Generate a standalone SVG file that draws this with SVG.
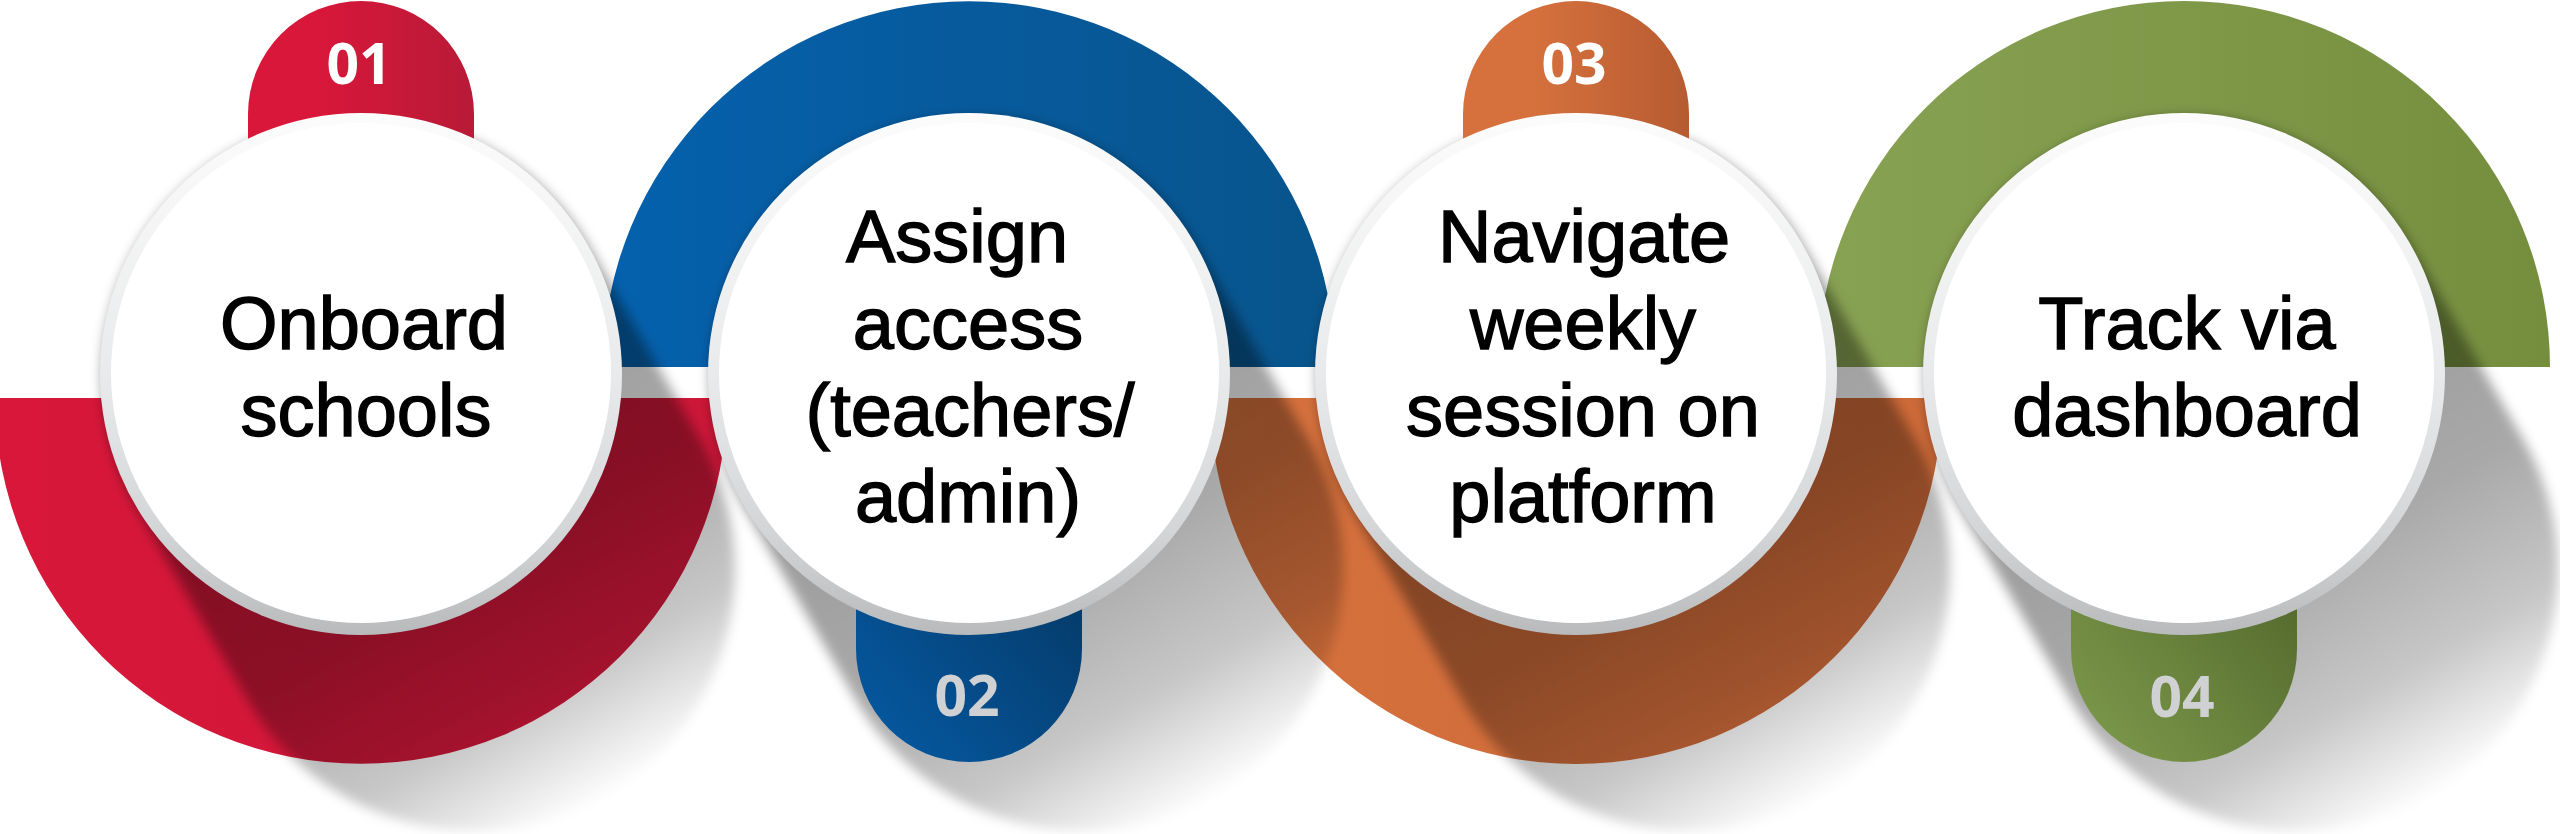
<svg xmlns="http://www.w3.org/2000/svg" xmlns:xlink="http://www.w3.org/1999/xlink" width="2560" height="834" viewBox="0 0 2560 834">
  <style>
    .lbl { font-family: "Liberation Sans", Arial, Helvetica, sans-serif; font-size: 74px; fill: #000; stroke: #000; stroke-width: 1.4px; text-anchor: middle; }
    .num { font-family: "Open Sans", "DejaVu Sans", sans-serif; font-weight: 700; font-size: 57px; text-anchor: middle; }
    .num-top { fill: #ffffff; }
    .num-bot { fill: #d0d1d3; }
    .rim { fill: url(#rimGrad); }
    .face { fill: #ffffff; }
  </style>
  <defs>
    <linearGradient id="rimGrad" x1="0" y1="0" x2="0" y2="1">
      <stop offset="0" stop-color="#fcfcfc"/>
      <stop offset="0.5" stop-color="#e9eaeb"/>
      <stop offset="0.8" stop-color="#d4d5d7"/>
      <stop offset="1" stop-color="#b8babc"/>
    </linearGradient>
    <linearGradient id="gRed" x1="0" y1="0" x2="1" y2="0">
      <stop offset="0" stop-color="#d8173a"/>
      <stop offset="1" stop-color="#cc1738"/>
    </linearGradient>
    <linearGradient id="gBlue" x1="0" y1="0" x2="1" y2="0">
      <stop offset="0" stop-color="#0561ad"/>
      <stop offset="1" stop-color="#08548c"/>
    </linearGradient>
    <linearGradient id="gOrange" x1="0" y1="0" x2="1" y2="0">
      <stop offset="0" stop-color="#d6713d"/>
      <stop offset="1" stop-color="#cc6938"/>
    </linearGradient>
    <linearGradient id="gGreen" x1="0" y1="0" x2="1" y2="0">
      <stop offset="0" stop-color="#88a253"/>
      <stop offset="1" stop-color="#758e3e"/>
    </linearGradient>
    <linearGradient id="tRed" x1="0" y1="0" x2="1" y2="0">
      <stop offset="0.3" stop-color="#d8173a"/>
      <stop offset="1" stop-color="#b81a37"/>
    </linearGradient>
    <linearGradient id="tOrange" x1="0" y1="0" x2="1" y2="0">
      <stop offset="0.3" stop-color="#d6713d"/>
      <stop offset="1" stop-color="#b65b31"/>
    </linearGradient>
    <linearGradient id="tBlue" x1="0" y1="1" x2="1" y2="0">
      <stop offset="0" stop-color="#055ba6"/>
      <stop offset="1" stop-color="#05345c"/>
    </linearGradient>
    <linearGradient id="tGreen" x1="0" y1="1" x2="1" y2="0">
      <stop offset="0" stop-color="#809d4d"/>
      <stop offset="1" stop-color="#4b5f27"/>
    </linearGradient>
    <linearGradient id="shGrad" gradientUnits="userSpaceOnUse" x1="0" y1="0" x2="245.5" y2="425.2">
      <stop offset="0" stop-color="#000" stop-opacity="0.40"/>
      <stop offset="0.45" stop-color="#000" stop-opacity="0.34"/>
      <stop offset="0.75" stop-color="#000" stop-opacity="0.22"/>
      <stop offset="0.9" stop-color="#000" stop-opacity="0.09"/>
      <stop offset="1" stop-color="#000" stop-opacity="0"/>
    </linearGradient>
    <filter id="soft" x="-20%" y="-20%" width="140%" height="140%">
      <feGaussianBlur stdDeviation="6"/>
    </filter>
    <path id="shadowShape" d="M 226 -130.5 L 341 68.7 A 261 261 0 0 1 -111 329.7 L -226 130.5 A 261 261 0 0 1 226 -130.5 Z" fill="url(#shGrad)" filter="url(#soft)"/>
  </defs>

  <rect width="2560" height="834" fill="#ffffff"/>

  <g id="connectors">
    <path id="band-1" d="M -5 398 A 366 366 0 0 0 727 398 Z" fill="url(#gRed)"/>
    <path id="band-2" d="M 603 367 A 366 366 0 0 1 1335 367 Z" fill="url(#gBlue)"/>
    <path id="band-3" d="M 1210 398 A 366 366 0 0 0 1942 398 Z" fill="url(#gOrange)"/>
    <path id="band-4" d="M 1818 367 A 366 366 0 0 1 2550 367 Z" fill="url(#gGreen)"/>
  </g>

  <g id="shadows">
    <use xlink:href="#shadowShape" transform="translate(361,374)"/>
    <use xlink:href="#shadowShape" transform="translate(969,374)"/>
    <use xlink:href="#shadowShape" transform="translate(1576,374)"/>
    <use xlink:href="#shadowShape" transform="translate(2184,374)"/>
  </g>

  <g id="node-1">
    <path d="M 248 240 V 114 A 113 113 0 0 1 474 114 V 240 Z" fill="url(#tRed)"/>
    <circle class="rim" cx="361" cy="374" r="261"/>
    <circle class="face" cx="361" cy="373" r="250"/>
    <text class="num num-top" x="359" y="84">01</text>
    <text class="lbl" x="364" y="349">Onboard</text>
    <text class="lbl" x="366" y="436">schools</text>
  </g>

  <g id="node-2">
    <path d="M 856 500 V 649 A 113 113 0 0 0 1082 649 V 500 Z" fill="url(#tBlue)"/>
    <circle class="rim" cx="969" cy="374" r="261"/>
    <circle class="face" cx="969" cy="373" r="250"/>
    <text class="num num-bot" x="967" y="716">02</text>
    <text class="lbl" x="957" y="262">Assign</text>
    <text class="lbl" x="968" y="349">access</text>
    <text class="lbl" x="970" y="436">(teachers/</text>
    <text class="lbl" x="968" y="522">admin)</text>
  </g>

  <g id="node-3">
    <path d="M 1463 240 V 114 A 113 113 0 0 1 1689 114 V 240 Z" fill="url(#tOrange)"/>
    <circle class="rim" cx="1576" cy="374" r="261"/>
    <circle class="face" cx="1576" cy="373" r="250"/>
    <text class="num num-top" x="1574" y="84">03</text>
    <text class="lbl" x="1584" y="262">Navigate</text>
    <text class="lbl" x="1583" y="349">weekly</text>
    <text class="lbl" x="1583" y="436">session on</text>
    <text class="lbl" x="1583" y="522">platform</text>
  </g>

  <g id="node-4">
    <path d="M 2071 500 V 649 A 113 113 0 0 0 2297 649 V 500 Z" fill="url(#tGreen)"/>
    <circle class="rim" cx="2184" cy="374" r="261"/>
    <circle class="face" cx="2184" cy="373" r="250"/>
    <text class="num num-bot" x="2182" y="717">04</text>
    <text class="lbl" x="2187" y="349">Track via</text>
    <text class="lbl" x="2187" y="436">dashboard</text>
  </g>
</svg>
